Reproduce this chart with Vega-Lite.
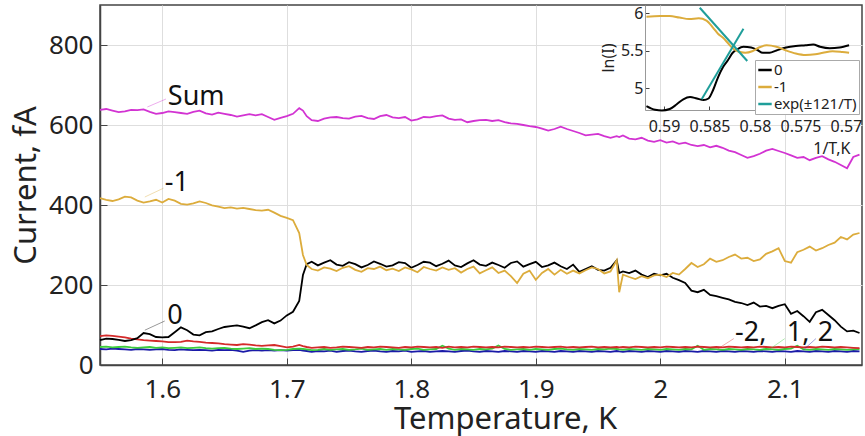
{
"$schema":"https://vega.github.io/schema/vega-lite/v6.json",
"width":762,"height":360,
"autosize":{"type":"none"},
"padding":{"left":100,"top":5,"right":3,"bottom":71},
"background":"white",
"config":{"font":"Noto Sans","view":{"stroke":"#444","strokeWidth":1.5},
 "axis":{"labelColor":"#222","titleColor":"#222","titleFontWeight":"normal","domainColor":"#444","tickColor":"#444","gridColor":"#dedede"}},
"datasets":{
"main":[
{"T":1.550,"Sum":638,"m1":417,"z":62,"m2":72,"p1":45,"p2":40},
{"T":1.555,"Sum":640,"m1":413,"z":66,"m2":74,"p1":46,"p2":39},
{"T":1.560,"Sum":636,"m1":410,"z":65,"m2":73,"p1":44,"p2":41},
{"T":1.565,"Sum":632,"m1":414,"z":63,"m2":71,"p1":45,"p2":40},
{"T":1.570,"Sum":634,"m1":421,"z":60,"m2":69,"p1":46,"p2":39},
{"T":1.575,"Sum":638,"m1":419,"z":62,"m2":66,"p1":44,"p2":38},
{"T":1.580,"Sum":637,"m1":411,"z":67,"m2":64,"p1":43,"p2":40},
{"T":1.585,"Sum":639,"m1":406,"z":80,"m2":62,"p1":44,"p2":39},
{"T":1.590,"Sum":633,"m1":409,"z":77,"m2":61,"p1":45,"p2":38},
{"T":1.595,"Sum":628,"m1":413,"z":70,"m2":60,"p1":43,"p2":39},
{"T":1.600,"Sum":630,"m1":406,"z":69,"m2":59,"p1":44,"p2":40},
{"T":1.605,"Sum":634,"m1":415,"z":70,"m2":57,"p1":42,"p2":38},
{"T":1.610,"Sum":632,"m1":411,"z":82,"m2":57,"p1":43,"p2":37},
{"T":1.615,"Sum":630,"m1":403,"z":94,"m2":58,"p1":44,"p2":39},
{"T":1.620,"Sum":628,"m1":401,"z":87,"m2":61,"p1":42,"p2":38},
{"T":1.625,"Sum":633,"m1":404,"z":76,"m2":59,"p1":43,"p2":37},
{"T":1.630,"Sum":636,"m1":409,"z":74,"m2":58,"p1":44,"p2":38},
{"T":1.635,"Sum":629,"m1":405,"z":82,"m2":56,"p1":42,"p2":37},
{"T":1.640,"Sum":626,"m1":399,"z":84,"m2":55,"p1":41,"p2":36},
{"T":1.645,"Sum":631,"m1":396,"z":90,"m2":54,"p1":42,"p2":38},
{"T":1.650,"Sum":628,"m1":392,"z":95,"m2":52,"p1":43,"p2":37},
{"T":1.655,"Sum":625,"m1":394,"z":97,"m2":51,"p1":41,"p2":38},
{"T":1.660,"Sum":621,"m1":391,"z":99,"m2":50,"p1":40,"p2":36},
{"T":1.665,"Sum":624,"m1":393,"z":96,"m2":52,"p1":41,"p2":33},
{"T":1.670,"Sum":627,"m1":390,"z":92,"m2":51,"p1":42,"p2":36},
{"T":1.675,"Sum":624,"m1":387,"z":99,"m2":49,"p1":40,"p2":37},
{"T":1.680,"Sum":627,"m1":386,"z":107,"m2":48,"p1":41,"p2":36},
{"T":1.685,"Sum":620,"m1":388,"z":112,"m2":49,"p1":40,"p2":37},
{"T":1.690,"Sum":613,"m1":381,"z":104,"m2":50,"p1":38,"p2":36},
{"T":1.695,"Sum":618,"m1":373,"z":111,"m2":47,"p1":37,"p2":37},
{"T":1.700,"Sum":622,"m1":368,"z":124,"m2":44,"p1":38,"p2":36},
{"T":1.705,"Sum":628,"m1":362,"z":133,"m2":46,"p1":40,"p2":37},
{"T":1.710,"Sum":642,"m1":330,"z":160,"m2":50,"p1":41,"p2":38},
{"T":1.713,"Sum":636,"m1":275,"z":225,"m2":47,"p1":40,"p2":36},
{"T":1.716,"Sum":622,"m1":250,"z":252,"m2":45,"p1":39,"p2":35},
{"T":1.720,"Sum":612,"m1":240,"z":258,"m2":43,"p1":37,"p2":33},
{"T":1.725,"Sum":610,"m1":236,"z":249,"m2":44,"p1":38,"p2":35},
{"T":1.730,"Sum":616,"m1":244,"z":256,"m2":45,"p1":40,"p2":34},
{"T":1.735,"Sum":619,"m1":241,"z":262,"m2":43,"p1":38,"p2":36},
{"T":1.740,"Sum":620,"m1":235,"z":251,"m2":44,"p1":39,"p2":33},
{"T":1.745,"Sum":617,"m1":243,"z":248,"m2":46,"p1":40,"p2":35},
{"T":1.750,"Sum":616,"m1":247,"z":257,"m2":45,"p1":38,"p2":36},
{"T":1.755,"Sum":621,"m1":238,"z":252,"m2":44,"p1":39,"p2":34},
{"T":1.760,"Sum":623,"m1":233,"z":244,"m2":43,"p1":41,"p2":33},
{"T":1.765,"Sum":617,"m1":242,"z":250,"m2":45,"p1":38,"p2":35},
{"T":1.770,"Sum":615,"m1":240,"z":259,"m2":44,"p1":39,"p2":36},
{"T":1.775,"Sum":622,"m1":246,"z":253,"m2":46,"p1":40,"p2":34},
{"T":1.780,"Sum":625,"m1":237,"z":246,"m2":45,"p1":38,"p2":33},
{"T":1.785,"Sum":619,"m1":241,"z":249,"m2":44,"p1":40,"p2":35},
{"T":1.790,"Sum":617,"m1":235,"z":257,"m2":43,"p1":39,"p2":34},
{"T":1.795,"Sum":620,"m1":244,"z":255,"m2":45,"p1":38,"p2":36},
{"T":1.800,"Sum":611,"m1":239,"z":243,"m2":44,"p1":40,"p2":33},
{"T":1.805,"Sum":614,"m1":232,"z":250,"m2":46,"p1":41,"p2":34},
{"T":1.810,"Sum":620,"m1":245,"z":258,"m2":45,"p1":38,"p2":35},
{"T":1.815,"Sum":619,"m1":240,"z":256,"m2":44,"p1":39,"p2":33},
{"T":1.820,"Sum":622,"m1":236,"z":247,"m2":45,"p1":40,"p2":34},
{"T":1.825,"Sum":624,"m1":244,"z":253,"m2":43,"p1":48,"p2":35},
{"T":1.830,"Sum":616,"m1":238,"z":261,"m2":46,"p1":41,"p2":34},
{"T":1.835,"Sum":613,"m1":242,"z":249,"m2":44,"p1":38,"p2":33},
{"T":1.840,"Sum":614,"m1":231,"z":245,"m2":45,"p1":40,"p2":35},
{"T":1.845,"Sum":607,"m1":240,"z":254,"m2":44,"p1":39,"p2":36},
{"T":1.850,"Sum":610,"m1":246,"z":262,"m2":46,"p1":38,"p2":34},
{"T":1.855,"Sum":612,"m1":229,"z":251,"m2":45,"p1":40,"p2":33},
{"T":1.860,"Sum":613,"m1":237,"z":248,"m2":44,"p1":39,"p2":35},
{"T":1.865,"Sum":610,"m1":244,"z":256,"m2":45,"p1":41,"p2":34},
{"T":1.870,"Sum":612,"m1":230,"z":250,"m2":44,"p1":49,"p2":33},
{"T":1.875,"Sum":607,"m1":236,"z":243,"m2":46,"p1":40,"p2":35},
{"T":1.880,"Sum":604,"m1":222,"z":255,"m2":45,"p1":38,"p2":34},
{"T":1.885,"Sum":603,"m1":205,"z":259,"m2":44,"p1":39,"p2":33},
{"T":1.890,"Sum":600,"m1":228,"z":246,"m2":45,"p1":40,"p2":35},
{"T":1.895,"Sum":597,"m1":236,"z":252,"m2":44,"p1":38,"p2":34},
{"T":1.900,"Sum":595,"m1":213,"z":258,"m2":46,"p1":40,"p2":33},
{"T":1.905,"Sum":591,"m1":230,"z":245,"m2":45,"p1":39,"p2":35},
{"T":1.910,"Sum":586,"m1":240,"z":249,"m2":44,"p1":38,"p2":34},
{"T":1.915,"Sum":590,"m1":226,"z":256,"m2":45,"p1":40,"p2":33},
{"T":1.920,"Sum":596,"m1":238,"z":247,"m2":46,"p1":41,"p2":35},
{"T":1.925,"Sum":590,"m1":228,"z":240,"m2":44,"p1":39,"p2":34},
{"T":1.930,"Sum":585,"m1":236,"z":251,"m2":45,"p1":38,"p2":33},
{"T":1.935,"Sum":580,"m1":229,"z":233,"m2":44,"p1":40,"p2":35},
{"T":1.940,"Sum":574,"m1":237,"z":240,"m2":45,"p1":39,"p2":34},
{"T":1.945,"Sum":576,"m1":244,"z":247,"m2":46,"p1":38,"p2":33},
{"T":1.950,"Sum":578,"m1":240,"z":238,"m2":44,"p1":40,"p2":35},
{"T":1.955,"Sum":572,"m1":229,"z":236,"m2":45,"p1":39,"p2":34},
{"T":1.960,"Sum":568,"m1":234,"z":243,"m2":44,"p1":41,"p2":33},
{"T":1.965,"Sum":572,"m1":262,"z":262,"m2":45,"p1":40,"p2":35},
{"T":1.967,"Sum":570,"m1":182,"z":230,"m2":44,"p1":39,"p2":34},
{"T":1.970,"Sum":574,"m1":226,"z":234,"m2":45,"p1":38,"p2":33},
{"T":1.975,"Sum":566,"m1":220,"z":230,"m2":44,"p1":40,"p2":35},
{"T":1.980,"Sum":564,"m1":215,"z":236,"m2":46,"p1":39,"p2":34},
{"T":1.985,"Sum":568,"m1":222,"z":226,"m2":45,"p1":38,"p2":33},
{"T":1.990,"Sum":561,"m1":217,"z":220,"m2":44,"p1":40,"p2":35},
{"T":1.995,"Sum":558,"m1":224,"z":228,"m2":45,"p1":39,"p2":34},
{"T":2.000,"Sum":562,"m1":226,"z":224,"m2":44,"p1":38,"p2":33},
{"T":2.005,"Sum":556,"m1":220,"z":228,"m2":46,"p1":40,"p2":35},
{"T":2.010,"Sum":559,"m1":230,"z":218,"m2":45,"p1":39,"p2":34},
{"T":2.015,"Sum":553,"m1":226,"z":212,"m2":44,"p1":38,"p2":33},
{"T":2.020,"Sum":556,"m1":240,"z":205,"m2":45,"p1":40,"p2":35},
{"T":2.025,"Sum":550,"m1":255,"z":186,"m2":44,"p1":39,"p2":34},
{"T":2.030,"Sum":547,"m1":245,"z":182,"m2":46,"p1":48,"p2":33},
{"T":2.035,"Sum":550,"m1":252,"z":188,"m2":45,"p1":38,"p2":35},
{"T":2.040,"Sum":544,"m1":266,"z":175,"m2":44,"p1":40,"p2":34},
{"T":2.045,"Sum":548,"m1":258,"z":172,"m2":45,"p1":39,"p2":33},
{"T":2.050,"Sum":543,"m1":262,"z":168,"m2":44,"p1":38,"p2":35},
{"T":2.055,"Sum":536,"m1":270,"z":164,"m2":46,"p1":40,"p2":34},
{"T":2.060,"Sum":532,"m1":276,"z":158,"m2":45,"p1":39,"p2":33},
{"T":2.065,"Sum":525,"m1":266,"z":155,"m2":44,"p1":38,"p2":35},
{"T":2.070,"Sum":518,"m1":268,"z":150,"m2":45,"p1":40,"p2":34},
{"T":2.075,"Sum":522,"m1":260,"z":156,"m2":44,"p1":39,"p2":33},
{"T":2.080,"Sum":528,"m1":264,"z":146,"m2":46,"p1":38,"p2":35},
{"T":2.085,"Sum":536,"m1":278,"z":148,"m2":45,"p1":40,"p2":34},
{"T":2.090,"Sum":540,"m1":284,"z":142,"m2":44,"p1":39,"p2":33},
{"T":2.095,"Sum":535,"m1":292,"z":148,"m2":45,"p1":38,"p2":35},
{"T":2.100,"Sum":530,"m1":260,"z":152,"m2":44,"p1":40,"p2":34},
{"T":2.105,"Sum":524,"m1":256,"z":128,"m2":46,"p1":41,"p2":33},
{"T":2.110,"Sum":518,"m1":282,"z":135,"m2":45,"p1":48,"p2":35},
{"T":2.115,"Sum":520,"m1":288,"z":122,"m2":44,"p1":39,"p2":34},
{"T":2.120,"Sum":512,"m1":296,"z":108,"m2":45,"p1":38,"p2":33},
{"T":2.125,"Sum":518,"m1":286,"z":132,"m2":44,"p1":40,"p2":35},
{"T":2.130,"Sum":522,"m1":292,"z":138,"m2":46,"p1":39,"p2":34},
{"T":2.135,"Sum":514,"m1":300,"z":125,"m2":45,"p1":38,"p2":33},
{"T":2.140,"Sum":508,"m1":306,"z":112,"m2":44,"p1":40,"p2":35},
{"T":2.145,"Sum":500,"m1":320,"z":96,"m2":45,"p1":39,"p2":34},
{"T":2.150,"Sum":492,"m1":314,"z":84,"m2":44,"p1":38,"p2":33},
{"T":2.155,"Sum":520,"m1":326,"z":86,"m2":43,"p1":39,"p2":35},
{"T":2.160,"Sum":526,"m1":330,"z":80,"m2":42,"p1":40,"p2":34}
],
"lead":[
{"series":"Sum","x1":1.588,"y1":645,"x2":1.603,"y2":665},
{"series":"m1","x1":1.586,"y1":420,"x2":1.601,"y2":442},
{"series":"z","x1":1.586,"y1":87,"x2":1.602,"y2":110},
{"series":"m2","x1":2.046,"y1":40,"x2":2.059,"y2":66},
{"series":"p1","x1":2.088,"y1":40,"x2":2.1,"y2":66},
{"series":"p2","x1":2.115,"y1":38,"x2":2.125,"y2":66}
],
"ann":[
{"label":"Sum","x":1.6045,"y":669},
{"label":"-1","x":1.602,"y":454},
{"label":"0","x":1.604,"y":122},
{"label":"-2,","x":2.06,"y":80},
{"label":"1,","x":2.1016,"y":80},
{"label":"2","x":2.1265,"y":80}
],
"inset":[
{"ix":0.59193,"ly":4.76,"s":"0","seg":"a"},{"ix":0.59097,"ly":4.71,"s":"0","seg":"a"},{"ix":0.59023,"ly":4.70,"s":"0","seg":"a"},{"ix":0.58937,"ly":4.72,"s":"0","seg":"a"},{"ix":0.58863,"ly":4.78,"s":"0","seg":"a"},{"ix":0.58788,"ly":4.85,"s":"0","seg":"a"},{"ix":0.58714,"ly":4.88,"s":"0","seg":"a"},{"ix":0.58639,"ly":4.86,"s":"0","seg":"a"},{"ix":0.58564,"ly":4.84,"s":"0","seg":"a"},{"ix":0.58511,"ly":4.86,"s":"0","seg":"a"},{"ix":0.58458,"ly":4.98,"s":"0","seg":"a"},{"ix":0.58404,"ly":5.15,"s":"0","seg":"a"},{"ix":0.58351,"ly":5.28,"s":"0","seg":"a"},{"ix":0.58298,"ly":5.37,"s":"0","seg":"a"},{"ix":0.58245,"ly":5.47,"s":"0","seg":"a"},{"ix":0.58191,"ly":5.52,"s":"0","seg":"a"},{"ix":0.58127,"ly":5.55,"s":"0","seg":"a"},{"ix":0.58042,"ly":5.54,"s":"0","seg":"a"},{"ix":0.57978,"ly":5.51,"s":"0","seg":"a"},{"ix":0.57914,"ly":5.47,"s":"0","seg":"a"},{"ix":0.57840,"ly":5.47,"s":"0","seg":"a"},{"ix":0.57765,"ly":5.50,"s":"0","seg":"a"},{"ix":0.57658,"ly":5.54,"s":"0","seg":"a"},{"ix":0.57552,"ly":5.56,"s":"0","seg":"a"},{"ix":0.57445,"ly":5.57,"s":"0","seg":"a"},{"ix":0.57360,"ly":5.58,"s":"0","seg":"a"},{"ix":0.57285,"ly":5.55,"s":"0","seg":"a"},{"ix":0.57179,"ly":5.53,"s":"0","seg":"a"},{"ix":0.57072,"ly":5.54,"s":"0","seg":"a"},{"ix":0.56966,"ly":5.57,"s":"0","seg":"a"},
{"ix":0.59193,"ly":5.95,"s":"-1","seg":"b"},{"ix":0.59044,"ly":5.96,"s":"-1","seg":"b"},{"ix":0.58937,"ly":5.96,"s":"-1","seg":"b"},{"ix":0.58831,"ly":5.94,"s":"-1","seg":"b"},{"ix":0.58724,"ly":5.92,"s":"-1","seg":"b"},{"ix":0.58618,"ly":5.93,"s":"-1","seg":"b"},{"ix":0.58533,"ly":5.90,"s":"-1","seg":"b"},{"ix":0.58458,"ly":5.80,"s":"-1","seg":"b"},{"ix":0.58404,"ly":5.72,"s":"-1","seg":"b"},{"ix":0.58351,"ly":5.67,"s":"-1","seg":"b"},{"ix":0.58298,"ly":5.60,"s":"-1","seg":"b"},{"ix":0.58245,"ly":5.53,"s":"-1","seg":"b"},{"ix":0.58191,"ly":5.49,"s":"-1","seg":"b"},{"ix":0.58106,"ly":5.47,"s":"-1","seg":"b"},{"ix":0.58031,"ly":5.49,"s":"-1","seg":"b"},{"ix":0.57957,"ly":5.54,"s":"-1","seg":"b"},{"ix":0.57872,"ly":5.57,"s":"-1","seg":"b"},{"ix":0.57765,"ly":5.55,"s":"-1","seg":"b"},{"ix":0.57658,"ly":5.50,"s":"-1","seg":"b"},{"ix":0.57552,"ly":5.46,"s":"-1","seg":"b"},{"ix":0.57445,"ly":5.44,"s":"-1","seg":"b"},{"ix":0.57338,"ly":5.45,"s":"-1","seg":"b"},{"ix":0.57253,"ly":5.47,"s":"-1","seg":"b"},{"ix":0.57147,"ly":5.49,"s":"-1","seg":"b"},{"ix":0.57040,"ly":5.48,"s":"-1","seg":"b"},{"ix":0.56966,"ly":5.47,"s":"-1","seg":"b"},
{"ix":0.58586,"ly":4.85,"s":"exp(±121/T)","seg":"c"},{"ix":0.58127,"ly":5.79,"s":"exp(±121/T)","seg":"c"},
{"ix":0.58607,"ly":6.07,"s":"exp(±121/T)","seg":"d"},{"ix":0.58085,"ly":5.36,"s":"exp(±121/T)","seg":"d"}
]
},
"layer":[
{"layer":[
 {"data":{"name":"main"},
  "transform":[{"fold":["p2","p1","m2","z","m1","Sum"],"as":["series","I"]}],
  "mark":{"type":"line","strokeWidth":1.8},
  "encoding":{
   "x":{"field":"T","type":"quantitative","scale":{"domain":[1.55,2.162],"nice":false,"zero":false},
        "axis":{"values":[1.6,1.7,1.8,1.9,2,2.1],"format":"~g","title":"Temperature, K","labelFontSize":26,"titleFontSize":31,"grid":true,"tickSize":-7,"labelPadding":18,"titleX":405,"titleY":63,"titleAlign":"center","titleBaseline":"alphabetic","domainWidth":1.5}},
   "y":{"field":"I","type":"quantitative","scale":{"domain":[0,900],"nice":false},
        "axis":{"values":[0,200,400,600,800],"title":"Current, fA","labelFontSize":26,"titleFontSize":31,"grid":true,"tickSize":-7,"labelPadding":14,"titlePadding":6,"domainWidth":1.5}},
   "color":{"field":"series","type":"nominal","scale":{"domain":["Sum","m1","z","m2","p1","p2"],"range":["#d233d2","#dcac3c","#000000","#d42a2a","#3ccc3c","#1a1aa8"]},"legend":null}
  }},
 {"data":{"name":"lead"},
  "mark":{"type":"rule","strokeWidth":0.8,"opacity":0.5},
  "encoding":{
   "x":{"field":"x1","type":"quantitative"},"x2":{"field":"x2"},
   "y":{"field":"y1","type":"quantitative"},"y2":{"field":"y2"},
   "color":{"field":"series","type":"nominal","legend":null}
  }},
 {"data":{"name":"ann"},
  "mark":{"type":"text","align":"left","baseline":"middle","fontSize":27,"color":"#111"},
  "encoding":{
   "x":{"field":"x","type":"quantitative"},
   "y":{"field":"y","type":"quantitative"},
   "text":{"field":"label"}
  }}
]},
{"layer":[
 {"mark":{"type":"rect","fill":"white","stroke":"#999","strokeWidth":1},
  "encoding":{
   "x":{"datum":0.592088,"type":"quantitative","scale":{"domain":[0.592088,0.568681],"range":[545,758],"nice":false,"zero":false},
        "axis":{"orient":"bottom","offset":-255,"values":[0.59,0.585,0.58,0.575,0.57],"format":".3~f","title":"1/T,K","titleX":750,"titleY":38,"titleAlign":"right","titleBaseline":"middle","labelFontSize":16,"titleFontSize":16,"grid":false,"tickSize":-4,"labelPadding":12,"domainColor":"#999"}},
   "x2":{"datum":0.568681},
   "y":{"datum":4.707,"type":"quantitative","scale":{"domain":[4.707,6.107],"range":[105,0],"nice":false,"zero":false},
        "axis":{"orient":"left","offset":-545,"values":[5,5.5,6],"format":"~g","title":"ln(I)","labelFontSize":16,"titleFontSize":16,"grid":false,"tickSize":-4,"labelPadding":6,"titlePadding":4,"domainColor":"#999"}},
   "y2":{"datum":6.107}
  }},
 {"data":{"name":"inset"},
  "mark":{"type":"line","strokeWidth":2,"interpolate":"monotone"},
  "encoding":{
   "x":{"field":"ix","type":"quantitative","axis":{"orient":"bottom","offset":-255,"values":[0.59,0.585,0.58,0.575,0.57],"format":".3~f","title":"1/T,K","titleX":750,"titleY":38,"titleAlign":"right","titleBaseline":"middle","labelFontSize":16,"titleFontSize":16,"grid":false,"tickSize":-4,"labelPadding":12,"domainColor":"#999"}},
   "y":{"field":"ly","type":"quantitative","axis":{"orient":"left","offset":-545,"values":[5,5.5,6],"format":"~g","title":"ln(I)","labelFontSize":16,"titleFontSize":16,"grid":false,"tickSize":-4,"labelPadding":6,"titlePadding":4,"domainColor":"#999"}},
   "detail":{"field":"seg"},
   "color":{"field":"s","type":"nominal","scale":{"domain":["0","-1","exp(±121/T)"],"range":["#000000","#dcac3c","#1f9e9a"]},
            "legend":{"orient":"none","legendX":655,"legendY":55,"title":null,"symbolType":"stroke","symbolStrokeWidth":2.5,"symbolSize":180,"labelFontSize":15,"rowPadding":1,"padding":2,"strokeColor":"#aaa","fillColor":"white","labelOffset":1,"labelColor":"#222"}}
  }}
]}
],
"resolve":{"scale":{"x":"independent","y":"independent","color":"independent"},"axis":{"x":"independent","y":"independent"},"legend":{"color":"independent"}}
}
